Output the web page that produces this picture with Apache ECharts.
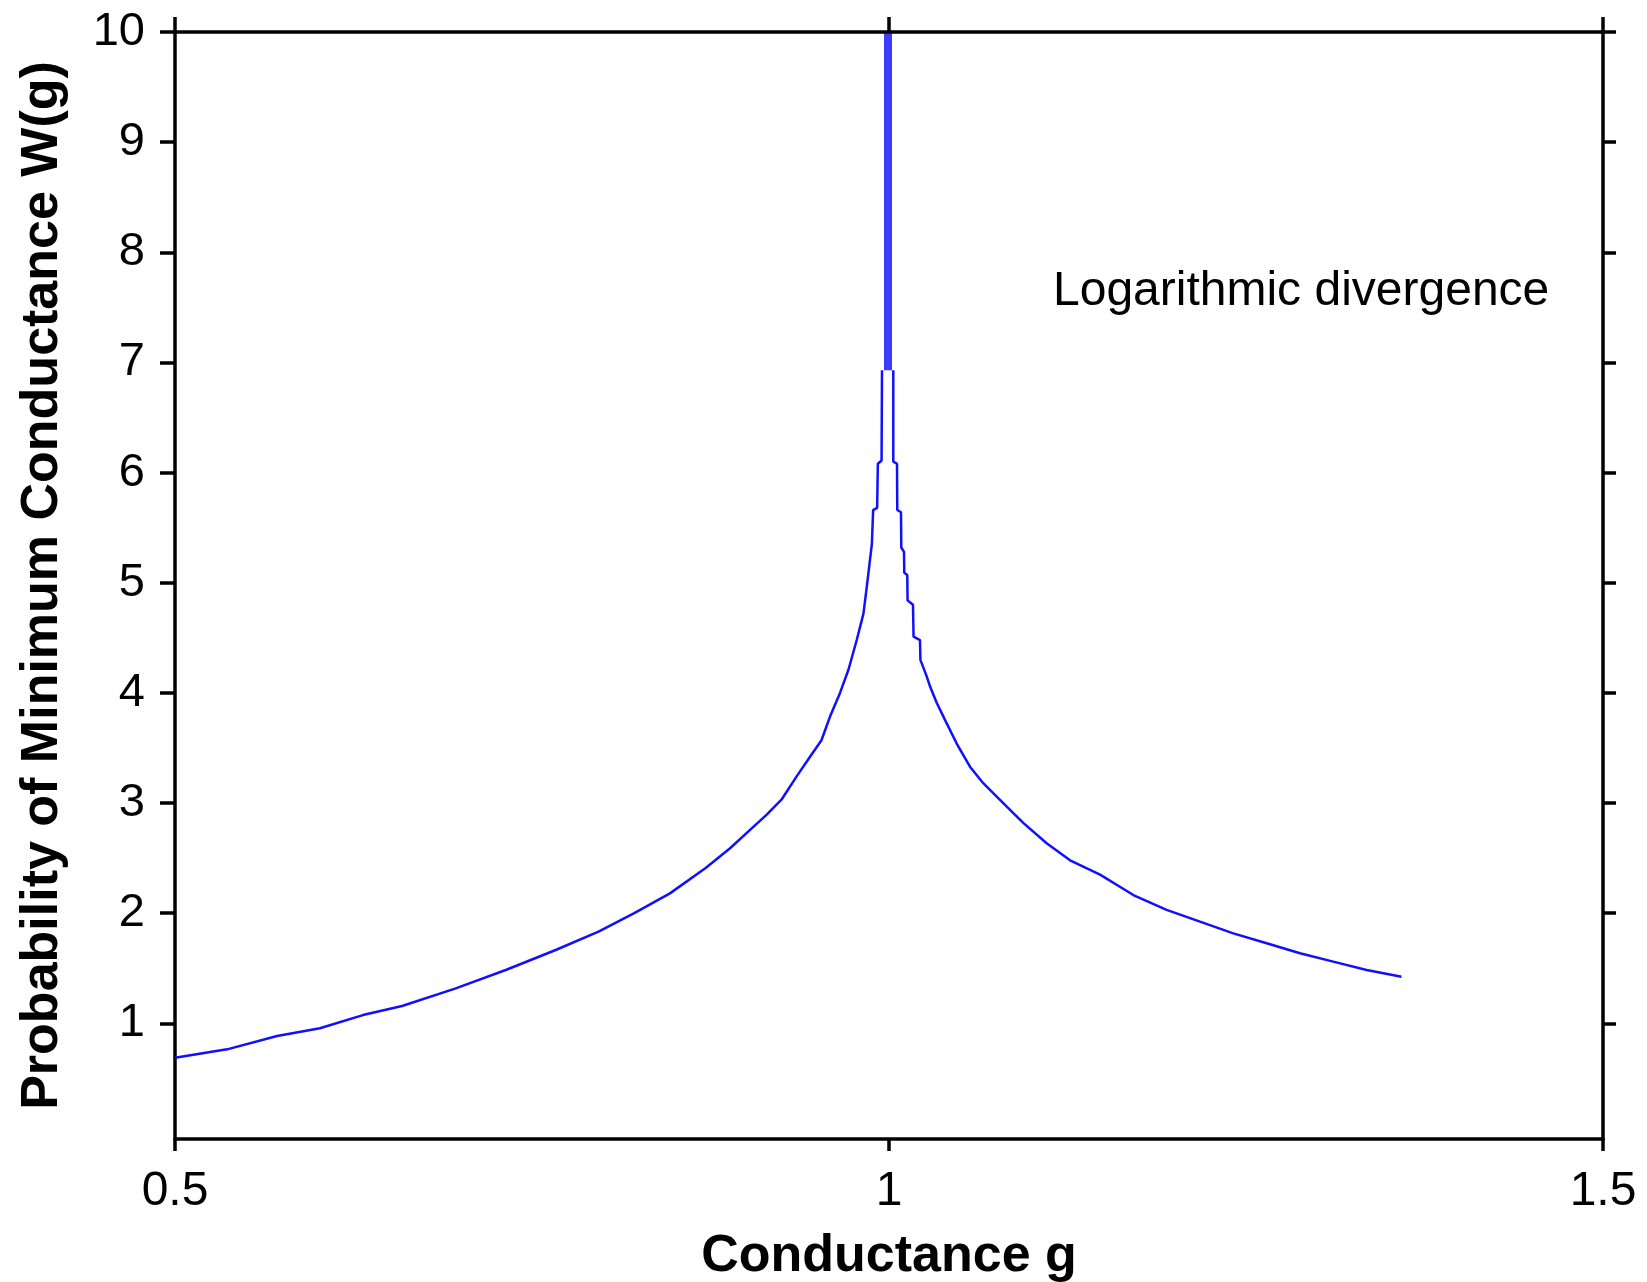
<!DOCTYPE html>
<html>
<head>
<meta charset="utf-8">
<title>Minimum conductance</title>
<script src="https://cdn.jsdelivr.net/npm/echarts@6/dist/echarts.min.js"></script>
<style>
    html, body {margin: 0; padding: 0; background: #fff;}
    #container {width: 1647px; height: 1282px;}
</style>
</head>
<body>
<div id="container"></div>
<script>

// values, [g, W(g)]
var leftCurve = [
    [0.5, 0.688], [0.5365, 0.764], [0.5715, 0.885], [0.6015, 0.955], [0.6316, 1.075],
    [0.659, 1.157], [0.6966, 1.318], [0.7316, 1.484], [0.7666, 1.666], [0.7966, 1.832],
    [0.8216, 2.0], [0.8466, 2.18], [0.8716, 2.41], [0.8887, 2.59], [0.9027, 2.756],
    [0.914, 2.89], [0.9247, 3.03], [0.9352, 3.24], [0.9447, 3.42], [0.9527, 3.57],
    [0.9587, 3.785], [0.9657, 4.0], [0.9716, 4.21], [0.9774, 4.48], [0.9821, 4.72],
    [0.9845, 4.97], [0.9867, 5.21], [0.988, 5.35], [0.9889, 5.66], [0.9917, 5.68],
    [0.9922, 6.08], [0.9948, 6.11], [0.9951, 6.93]
];

var rightCurve = [
    [1.003, 6.93], [1.003, 6.1], [1.0056, 6.08], [1.0058, 5.66], [1.0084, 5.64],
    [1.0086, 5.32], [1.0105, 5.28], [1.0107, 5.09], [1.0128, 5.07], [1.013, 4.84],
    [1.0168, 4.8], [1.0172, 4.51], [1.0217, 4.48], [1.022, 4.3], [1.0264, 4.15],
    [1.0287, 4.06], [1.0334, 3.91], [1.0392, 3.755], [1.0474, 3.54], [1.0567, 3.33],
    [1.066, 3.18], [1.08, 3.0], [1.094, 2.82], [1.1104, 2.635], [1.1268, 2.48],
    [1.1478, 2.35], [1.1711, 2.165], [1.1944, 2.03], [1.2178, 1.923], [1.2411, 1.817],
    [1.2645, 1.727], [1.2878, 1.636], [1.3111, 1.56], [1.3345, 1.484], [1.3589, 1.423]
];

// the spike at g = 1
var peak = [[0.9993, 6.93], [0.9993, 10]];

var yTicks = [1, 2, 3, 4, 5, 6, 7, 8, 9, 10];
var annotation = 'Logarithmic divergence';

var font = 'Liberation Sans, Arial, sans-serif';

var dom = document.getElementById('container');
var myChart = echarts.init(dom);

var axisLine = {show: true, onZero: false, lineStyle: {color: '#000', width: 3.5}};

var option = {
    animation: false,
    backgroundColor: '#fff',
    grid: {left: 175, right: 44, top: 32, bottom: 143, containLabel: false, outerBoundsMode: 'none'},
    xAxis: [{
        type: 'value',
        position: 'bottom',
        min: 0.5,
        max: 1.5,
        interval: 0.5,
        axisLine: axisLine,
        axisTick: {show: true, inside: false, length: 12, lineStyle: {color: '#000', width: 3.5}},
        axisLabel: {color: '#000', fontSize: 48, fontFamily: font, margin: 29},
        splitLine: {show: false},
        name: 'Conductance g',
        nameLocation: 'middle',
        nameGap: 92,
        nameTextStyle: {color: '#000', fontSize: 52, fontWeight: 'bold', fontFamily: font}
    }, {
        type: 'value',
        position: 'top',
        min: 0.5,
        max: 1.5,
        interval: 0.5,
        z: 5,
        axisLine: axisLine,
        axisTick: {show: true, inside: false, length: 15, lineStyle: {color: '#000', width: 3.5}},
        axisLabel: {show: false},
        splitLine: {show: false}
    }],
    yAxis: [{
        type: 'value',
        position: 'left',
        min: -0.05,
        max: 10,
        axisLine: axisLine,
        axisTick: {show: true, inside: false, length: 15, customValues: yTicks, lineStyle: {color: '#000', width: 3.5}},
        axisLabel: {color: '#000', fontSize: 47, fontFamily: font, margin: 30, customValues: yTicks},
        splitLine: {show: false},
        name: 'Probability of Minimum Conductance W(g)',
        nameLocation: 'middle',
        nameGap: 106,
        nameTextStyle: {color: '#000', fontSize: 52, fontWeight: 'bold', fontFamily: font}
    }, {
        type: 'value',
        position: 'right',
        min: -0.05,
        max: 10,
        axisLine: axisLine,
        axisTick: {show: true, inside: false, length: 13, customValues: yTicks, lineStyle: {color: '#000', width: 3.5}},
        axisLabel: {show: false, customValues: yTicks},
        splitLine: {show: false}
    }],
    series: [
        {
            name: 'left',
            type: 'line',
            symbol: 'none',
            smooth: false,
            lineStyle: {color: '#1010ff', width: 2.5},
            data: leftCurve
        },
        {
            name: 'right',
            type: 'line',
            symbol: 'none',
            smooth: false,
            lineStyle: {color: '#1010ff', width: 2.5},
            data: rightCurve
        },
        {
            name: 'peak',
            type: 'line',
            symbol: 'none',
            lineStyle: {color: '#3c3cff', width: 8},
            data: peak
        }
    ],
    graphic: [{
        type: 'text',
        left: 1053,
        top: 268,
        style: {
            text: annotation,
            font: '48px ' + font,
            fill: '#000'
        }
    }]
};

myChart.setOption(option, true);

</script>
</body>
</html>
